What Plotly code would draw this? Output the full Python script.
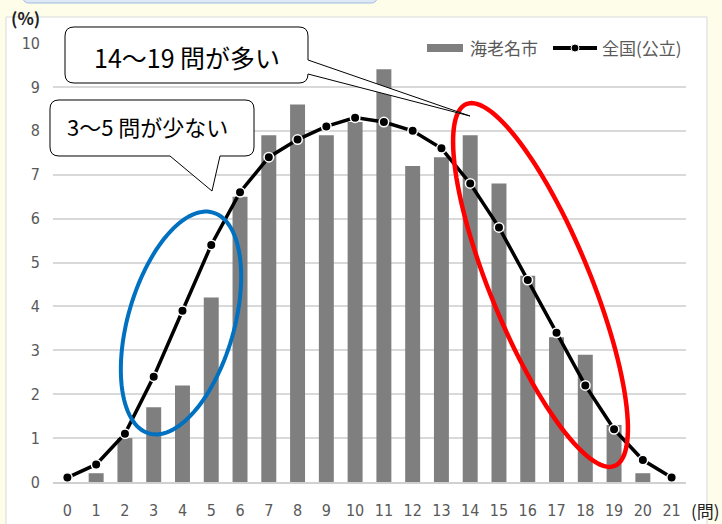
import numpy as np
import plotly.graph_objects as go

# ---- data ----
questions = list(range(22))
tick_labels = [str(q) for q in questions]
ebina = [0.0, 0.2, 1.0, 1.7, 2.2, 4.2, 6.5, 7.9, 8.6, 7.9, 8.2, 9.4,
         7.2, 7.4, 7.9, 6.8, 4.7, 3.3, 2.9, 1.3, 0.2, 0.0]
national = [0.1, 0.4, 1.1, 2.4, 3.9, 5.4, 6.6, 7.4, 7.8, 8.1, 8.3, 8.2,
            8.0, 7.6, 6.8, 5.8, 4.6, 3.4, 2.2, 1.2, 0.5, 0.1]
series_names = ["海老名市", "全国(公立)"]
y_ticks = list(range(11))

BAR_COLOR = "#7f7f7f"
LINE_COLOR = "#000000"
TICK_FONT = "Liberation Sans Narrow, DejaVu Sans Condensed, Liberation Sans"

# ---- geometry (pixels) ----
W, H = 722, 524
L, R, T, B = 53, 36, 43, 42
PW, PH = W - L - R, H - T - B
BOTTOM = H - B


def pp(px, py):
    return (px - L) / PW, (BOTTOM - py) / PH


def path_from(points, close=True):
    s = ""
    for cmd, pts in points:
        s += cmd + " " + " ".join("%.5f,%.5f" % pp(*p) for p in pts) + " "
    if close:
        s += "Z"
    return s


def ellipse_path(cx, cy, a, b, theta_deg, n=120):
    th = np.radians(theta_deg)
    t = np.linspace(0, 2 * np.pi, n, endpoint=False)
    xs = cx + a * np.cos(th) * np.cos(t) - b * np.sin(th) * np.sin(t)
    ys = cy + a * np.sin(th) * np.cos(t) + b * np.cos(th) * np.sin(t)
    cmds = [("M", [(xs[0], ys[0])])] + [("L", [(x, y)]) for x, y in zip(xs[1:], ys[1:])]
    return path_from(cmds)


def callout_path(x0, y0, x1, y1, r, side, p1, tip, p2):
    c = [("M", [(x0 + r, y0)]), ("L", [(x1 - r, y0)]), ("Q", [(x1, y0), (x1, y0 + r)])]
    if side == "right":
        c += [("L", [(x1, p1)]), ("L", [tip]), ("L", [(x1, p2)])]
    c += [("L", [(x1, y1 - r)]), ("Q", [(x1, y1), (x1 - r, y1)])]
    if side == "bottom":
        c += [("L", [(p2, y1)]), ("L", [tip]), ("L", [(p1, y1)])]
    c += [("L", [(x0 + r, y1)]), ("Q", [(x0, y1), (x0, y1 - r)]),
          ("L", [(x0, y0 + r)]), ("Q", [(x0, y0), (x0 + r, y0)])]
    return path_from(c)


fig = go.Figure()
fig.add_trace(go.Bar(
    x=questions, y=ebina, name=series_names[0], showlegend=False,
    marker=dict(color=BAR_COLOR, line=dict(width=0)),
))
fig.add_trace(go.Scatter(
    x=questions, y=national, name=series_names[1], mode="lines+markers", showlegend=False,
    line=dict(color=LINE_COLOR, width=3.5),
    marker=dict(color=LINE_COLOR, size=9.5, line=dict(color="#ffffff", width=1.5)),
    cliponaxis=False,
))

shapes = []
# header strip at top
shapes.append(dict(type="path", xref="paper", yref="paper", layer="below",
                   path=callout_path(23, -12, 377, 3, 6, None, 0, (0, 0), 0),
                   fillcolor="#dfe9f6", line=dict(color="#9dbde2", width=1)))
# white chart panel
shapes.append(dict(type="rect", xref="paper", yref="paper", layer="below",
                   x0=pp(6, 0)[0], x1=pp(707, 0)[0], y0=pp(0, 530)[1], y1=pp(0, 17)[1],
                   fillcolor="#ffffff", line=dict(color="#d9d9d9", width=1)))
# ellipses
shapes.append(dict(type="path", xref="paper", yref="paper", layer="above",
                   path=ellipse_path(181, 323, 115, 53, -73.8),
                   line=dict(color="#0070c0", width=4)))
shapes.append(dict(type="path", xref="paper", yref="paper", layer="above",
                   path=ellipse_path(540.5, 285, 195.5, 50, 67.7),
                   line=dict(color="#ff0000", width=4.5)))
# callouts
shapes.append(dict(type="path", xref="paper", yref="paper", layer="above",
                   path=callout_path(65, 27, 308, 83, 9, "right", 60, (470, 116), 74),
                   fillcolor="#ffffff", line=dict(color="#000000", width=1)))
shapes.append(dict(type="path", xref="paper", yref="paper", layer="above",
                   path=callout_path(50, 100, 254, 156, 9, "bottom", 170, (212, 191), 220),
                   fillcolor="#ffffff", line=dict(color="#000000", width=1)))

# legend (drawn manually to match the wide bar swatch)
lx0, ly0 = pp(427, 52)
lx1, ly1 = pp(463, 44)
shapes.append(dict(type="rect", xref="paper", yref="paper", layer="above",
                   x0=lx0, x1=lx1, y0=ly0, y1=ly1, fillcolor=BAR_COLOR, line=dict(width=0)))
ax0, ay = pp(553, 48)
ax1, _ = pp(597, 48)
shapes.append(dict(type="line", xref="paper", yref="paper", layer="above",
                   x0=ax0, x1=ax1, y0=ay, y1=ay, line=dict(color=LINE_COLOR, width=4)))
cx0, cy0 = pp(571, 52)
cx1, cy1 = pp(579, 44)
shapes.append(dict(type="circle", xref="paper", yref="paper", layer="above",
                   x0=cx0, x1=cx1, y0=cy0, y1=cy1, fillcolor=LINE_COLOR,
                   line=dict(color="#ffffff", width=1)))

annotations = []


def ann(text, px, py, size, color="#000000", family="Noto Sans CJK JP", xanchor="center"):
    x, y = pp(px, py)
    annotations.append(dict(text=text, x=x, y=y, xref="paper", yref="paper",
                            showarrow=False, xanchor=xanchor, yanchor="middle",
                            font=dict(size=size, color=color, family=family)))


ann("14〜19 問が多い", 187, 57, 25)
ann("3〜5 問が少ない", 147, 126, 22)
ann("<b>(%)</b>", 25, 18, 17, color="#222222")
ann("(問)", 722, 510, 17, color="#222222", xanchor="right")
ann(series_names[0], 468, 48, 17, color="#595959", xanchor="left")
ann(series_names[1], 600, 48, 17, color="#595959", xanchor="left")

fig.update_layout(
    width=W, height=H,
    margin=dict(l=L, r=R, t=T, b=B, autoexpand=False),
    paper_bgcolor="#fefde9",
    plot_bgcolor="rgba(0,0,0,0)",
    bargap=0.48,
    shapes=shapes,
    annotations=annotations,
    showlegend=False,
    font=dict(family="Noto Sans CJK JP"),
)
fig.update_xaxes(
    range=[-0.5, 21.5], tickmode="array", tickvals=questions, ticktext=tick_labels,
    showgrid=False, showline=True, linecolor="#d0d0d0", linewidth=1.5,
    ticks="", ticklabelstandoff=13,
    tickfont=dict(size=16, color="#595959", family=TICK_FONT),
)
fig.update_yaxes(
    range=[0, 10], tickmode="array", tickvals=y_ticks,
    showgrid=True, gridcolor="#d9d9d9", gridwidth=1.5, zeroline=False,
    showline=False, ticks="", ticklabelstandoff=12,
    tickfont=dict(size=16, color="#595959", family=TICK_FONT),
)

fig.write_html("out.html")
